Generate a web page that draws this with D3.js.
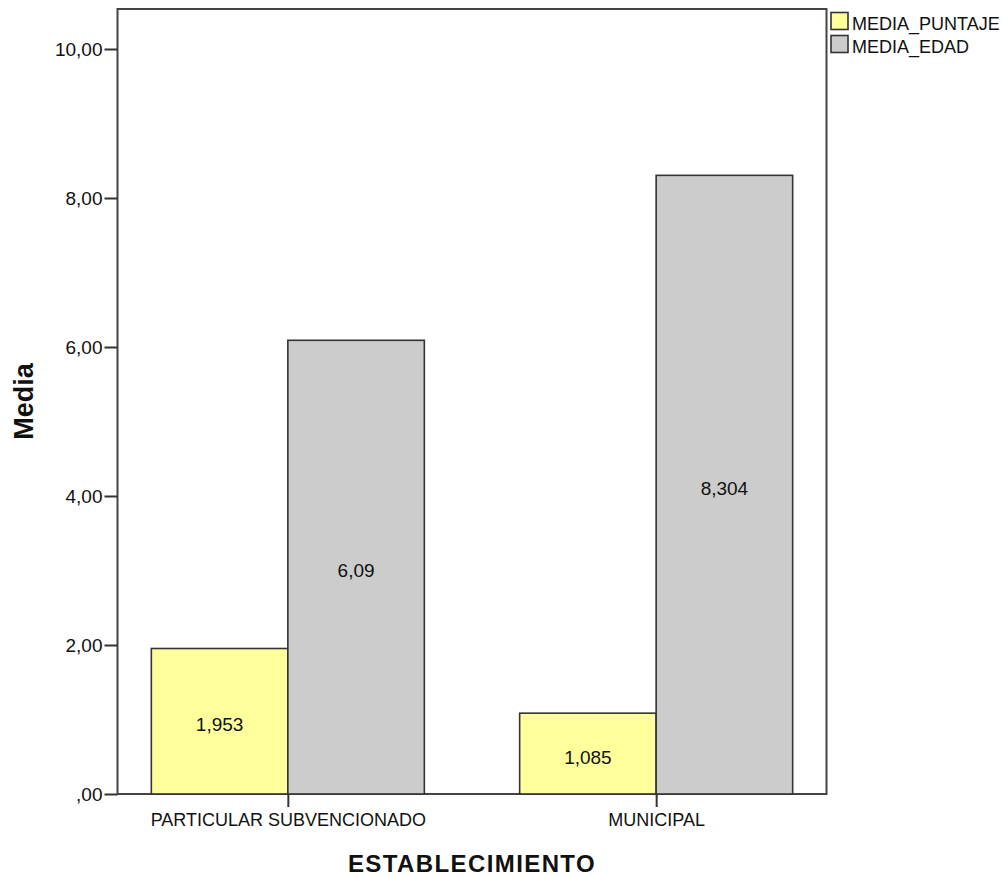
<!DOCTYPE html>
<html>
<head>
<meta charset="utf-8">
<script src="https://cdn.jsdelivr.net/npm/d3@7"></script>
<style>
  html, body { margin: 0; padding: 0; background: #fff; }
  svg { display: block; }
  text { font-family: "Liberation Sans", Arial, sans-serif; fill: #111; }
</style>
</head>
<body>
<svg id="chart" width="1008" height="878"></svg>
<script>
// ---- data ----
const categories = ["PARTICULAR SUBVENCIONADO", "MUNICIPAL"];
const seriesNames = ["MEDIA_PUNTAJE", "MEDIA_EDAD"];
const mediaPuntaje = [1.953, 1.085];
const mediaEdad = [6.09, 8.304];
const yTickValues = [0, 2, 4, 6, 8, 10];
const yTickLabels = [",00", "2,00", "4,00", "6,00", "8,00", "10,00"];
const seriesColors = ["#FFFF9C", "#CCCCCC"];

// ---- layout ----
const plotLeft = 117.5, plotRight = 826.5, plotTop = 9, plotBottom = 794;

const svg = d3.select("#chart");

const x = d3.scalePoint().domain(categories).range([plotLeft, plotRight]).padding(0.4625);
const xs = d3.scaleBand().domain(seriesNames).range([-136.5, 136.5]).padding(0);
const y = d3.scaleLinear().domain([0, 10]).range([plotBottom, 49]);
const color = d3.scaleOrdinal().domain(seriesNames).range(seriesColors);

const rows = [];
categories.forEach((c, i) => {
  rows.push({cat: c, s: seriesNames[0], v: mediaPuntaje[i]});
  rows.push({cat: c, s: seriesNames[1], v: mediaEdad[i]});
});

// frame
svg.append("rect")
  .attr("x", plotLeft).attr("y", plotTop)
  .attr("width", plotRight - plotLeft).attr("height", plotBottom - plotTop)
  .attr("fill", "none").attr("stroke", "#444").attr("stroke-width", 2);

// bars
svg.append("g").selectAll("rect").data(rows).join("rect")
  .attr("x", d => x(d.cat) + xs(d.s))
  .attr("y", d => y(d.v))
  .attr("width", xs.bandwidth())
  .attr("height", d => y(0) - y(d.v))
  .attr("fill", d => color(d.s))
  .attr("stroke", "#333").attr("stroke-width", 1.6);

// value labels
const fmt = v => String(v).replace(".", ",");
svg.append("g").selectAll("text").data(rows).join("text")
  .attr("x", d => x(d.cat) + xs(d.s) + xs.bandwidth() / 2)
  .attr("y", d => (y(0) + y(d.v)) / 2 + 10)
  .attr("text-anchor", "middle")
  .style("font-size", "19px")
  .text(d => fmt(d.v));

// y axis
const yAxis = d3.axisLeft(y).tickValues(yTickValues)
  .tickFormat((d, i) => yTickLabels[i]).tickSize(13).tickPadding(2);
const gy = svg.append("g").attr("transform", `translate(${plotLeft},0)`).call(yAxis);
gy.select(".domain").remove();
gy.selectAll(".tick line").attr("stroke", "#333").attr("stroke-width", 2);
gy.selectAll(".tick text").style("font-size", "19px").attr("fill", "#111")
  .style("font-family", "'Liberation Sans', Arial, sans-serif");

// x axis
const xAxis = d3.axisBottom(x).tickSize(13).tickPadding(5);
const gx = svg.append("g").attr("transform", `translate(0,${plotBottom})`).call(xAxis);
gx.select(".domain").remove();
gx.selectAll(".tick line").attr("stroke", "#333").attr("stroke-width", 2);
gx.selectAll(".tick text").style("font-size", "18px").attr("fill", "#111")
  .style("font-family", "'Liberation Sans', Arial, sans-serif")
  .attr("dy", "0").attr("y", 32);

// axis titles
svg.append("text")
  .attr("x", (plotLeft + plotRight) / 2).attr("y", 872)
  .attr("text-anchor", "middle")
  .style("font-size", "24px").style("font-weight", "bold")
  .style("letter-spacing", "1.4px")
  .text("ESTABLECIMIENTO");

svg.append("text")
  .attr("transform", `translate(33,${(plotTop + plotBottom) / 2}) rotate(-90)`)
  .attr("text-anchor", "middle")
  .style("font-size", "27px").style("font-weight", "bold")
  .text("Media");

// legend
const lg = svg.append("g").selectAll("g").data(seriesNames).join("g")
  .attr("transform", (d, i) => `translate(831,${12.5 + i * 23})`);
lg.append("rect").attr("width", 17).attr("height", 17)
  .attr("fill", d => color(d)).attr("stroke", "#333").attr("stroke-width", 1.6);
lg.append("text").attr("x", 21).attr("y", 17.5)
  .style("font-size", "18px").text(d => d);
</script>
</body>
</html>
